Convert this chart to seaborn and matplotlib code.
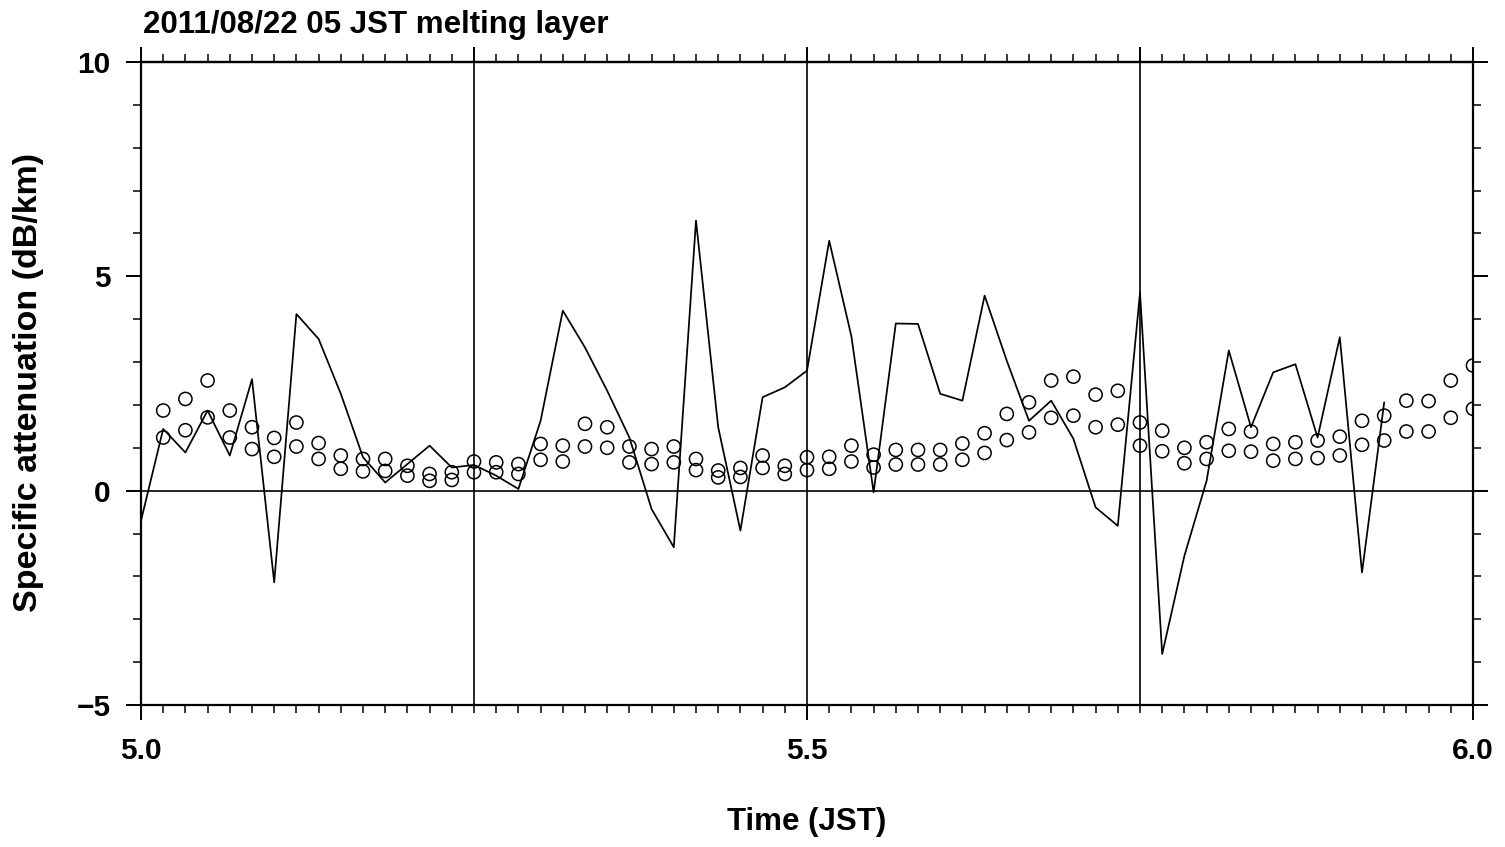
import numpy as np
import pandas as pd
import matplotlib
matplotlib.use("Agg")
import matplotlib.pyplot as plt
from matplotlib.ticker import MultipleLocator, FixedLocator, NullFormatter
import seaborn as sns

# ---------------- data ----------------
title = "2011/08/22 05 JST melting layer"
xlabel = "Time (JST)"
ylabel = "Specific attenuation (dB/km)"

# line series: one value per minute starting 5:00
line_minutes = np.arange(0, 57)
line_values = [-0.70, 1.44, 0.89, 1.87, 0.82, 2.60, -2.14, 4.12, 3.54, 2.26,
               0.78, 0.19, 0.62, 1.05, 0.54, 0.60, 0.35, 0.04, 1.63, 4.20,
               3.34, 2.33, 1.24, -0.43, -1.32, 6.30, 1.48, -0.93, 2.18, 2.41,
               2.80, 5.83, 3.60, -0.04, 3.90, 3.89, 2.26, 2.10, 4.55, 3.03,
               1.63, 2.10, 1.21, -0.39, -0.82, 4.62, -3.81, -1.52, 0.23, 3.27,
               1.48, 2.76, 2.95, 1.24, 3.58, -1.91, 2.06]

# circle series: minutes 1..60
circle_minutes = np.arange(1, 61)
upper_values = [1.87, 2.14, 2.57, 1.87, 1.48, 1.23, 1.59, 1.11, 0.82, 0.74,
                0.74, 0.58, 0.39, 0.43, 0.68, 0.66, 0.62, 1.09, 1.05, 1.56,
                1.48, 1.03, 0.97, 1.03, 0.74, 0.47, 0.53, 0.82, 0.58, 0.78,
                0.79, 1.05, 0.84, 0.95, 0.95, 0.95, 1.10, 1.34, 1.79, 2.06,
                2.57, 2.66, 2.24, 2.33, 1.59, 1.40, 1.00, 1.13, 1.44, 1.38,
                1.09, 1.13, 1.17, 1.26, 1.63, 1.75, 2.10, 2.09, 2.57, 2.92]
lower_values = [1.24, 1.41, 1.71, 1.24, 0.97, 0.79, 1.03, 0.74, 0.51, 0.45,
                0.46, 0.35, 0.23, 0.25, 0.43, 0.43, 0.39, 0.72, 0.68, 1.03,
                1.00, 0.66, 0.62, 0.66, 0.48, 0.31, 0.32, 0.53, 0.39, 0.48,
                0.51, 0.68, 0.54, 0.61, 0.61, 0.61, 0.72, 0.88, 1.18, 1.36,
                1.70, 1.75, 1.48, 1.54, 1.05, 0.92, 0.64, 0.74, 0.93, 0.91,
                0.70, 0.74, 0.76, 0.82, 1.07, 1.17, 1.38, 1.38, 1.70, 1.91]

x_ticks = [5.0, 5.5, 6.0]
x_ticklabels = ["5.0", "5.5", "6.0"]
y_ticks = [-5, 0, 5, 10]
y_ticklabels = ["\u22125", "0", "5", "10"]
v_refs = [5.25, 5.5, 5.75]
h_refs = [0]

# ---------------- plot ----------------
sns.set_style("white")
plt.rcParams["font.family"] = ["Liberation Sans", "DejaVu Sans"]
plt.rcParams["font.weight"] = "bold"

fig = plt.figure(figsize=(15.05, 8.47), dpi=100)
ax = fig.add_axes([141 / 1505, 1 - 705 / 847, (1473 - 141) / 1505, (705 - 62) / 847])

df_line = pd.DataFrame({"t": 5 + line_minutes / 60, "v": line_values})
df_up = pd.DataFrame({"t": 5 + circle_minutes / 60, "v": upper_values})
df_lo = pd.DataFrame({"t": 5 + circle_minutes / 60, "v": lower_values})

for xv in v_refs:
    ax.axvline(xv, color="black", lw=1.2, zorder=1)
for yv in h_refs:
    ax.axhline(yv, color="black", lw=1.2, zorder=1)

sns.lineplot(data=df_line, x="t", y="v", ax=ax, color="black", lw=1.25, zorder=3)
for d in (df_up, df_lo):
    sns.scatterplot(data=d, x="t", y="v", ax=ax, marker="o", s=90,
                    facecolor="none", edgecolor="black", linewidth=1.1, zorder=4)

ax.set_xlim(5.0, 6.0)
ax.set_ylim(-5, 10)
ax.set_xlabel("")
ax.set_ylabel("")

for s in ax.spines.values():
    s.set_visible(True)
    s.set_color("black")
    s.set_linewidth(1.6)

ax.xaxis.set_major_locator(FixedLocator(x_ticks))
ax.set_xticklabels(x_ticklabels)
ax.xaxis.set_minor_locator(MultipleLocator(1 / 60))
ax.yaxis.set_major_locator(FixedLocator(y_ticks))
ax.set_yticklabels(y_ticklabels)
ax.yaxis.set_minor_locator(MultipleLocator(1))

ax.tick_params(which="major", direction="out", length=11, width=1.4,
               labelsize=21.5, color="black", labelcolor="black",
               top=False, right=True, bottom=True, left=True)
ax.tick_params(axis="x", which="major", pad=12)
ax.tick_params(axis="y", which="major", pad=11)
ax.tick_params(which="minor", direction="out", length=5.5, width=1.1,
               color="black", top=False, right=True, bottom=True, left=True)

sec = ax.secondary_xaxis("top")
sec.xaxis.set_major_locator(FixedLocator([5.0, 5.25, 5.5, 5.75, 6.0]))
sec.xaxis.set_minor_locator(MultipleLocator(1 / 60))
sec.xaxis.set_major_formatter(NullFormatter())
sec.tick_params(which="major", direction="out", length=11, width=1.4, color="black")
sec.tick_params(which="minor", direction="out", length=5.5, width=1.1, color="black")
sec.spines["top"].set_linewidth(1.6)

for lab in ax.get_xticklabels() + ax.get_yticklabels():
    lab.set_fontweight("bold")

fig.text(143 / 1505, 1 - 25 / 847, title, fontsize=22.5, fontweight="bold",
         ha="left", va="center", color="black")
fig.text(807 / 1505, 1 - 822 / 847, xlabel, fontsize=22.5, fontweight="bold",
         ha="center", va="center", color="black")
fig.text(29 / 1505, 1 - 382 / 847, ylabel, fontsize=24.5, fontweight="bold",
         ha="center", va="center", rotation=90, color="black")

fig.savefig("out.png", dpi=100)
